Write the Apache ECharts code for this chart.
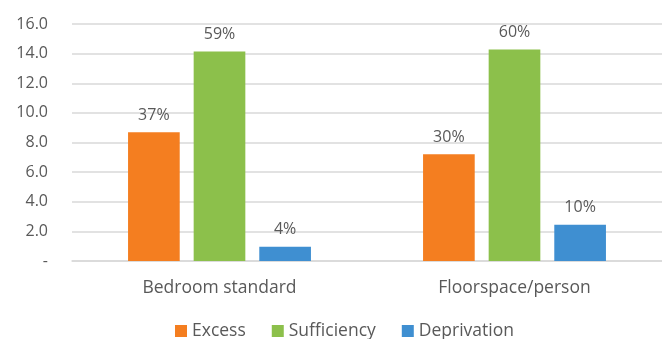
<!DOCTYPE html>
<html>
<head>
<meta charset="utf-8">
<script src="https://cdn.jsdelivr.net/npm/echarts@6/dist/echarts.min.js"></script>
<style>
  html, body {margin: 0; padding: 0; background: #fff;}
  #main {width: 662px; height: 339px;}
</style>
</head>
<body>
<div id="main"></div>
<script>
  const categories = ['Bedroom standard', 'Floorspace/person'];
  const seriesNames = ['Excess', 'Sufficiency', 'Deprivation'];
  const excess = [8.7, 7.2];
  const sufficiency = [14.15, 14.28];
  const deprivation = [0.97, 2.45];
  const excessPct = ['37%', '30%'];
  const sufficiencyPct = ['59%', '60%'];
  const deprivationPct = ['4%', '10%'];
  const colors = ['#f47e20', '#8cc04b', '#3f8fd1'];

  const textColor = '#595959';
  const font = 'Open Sans';

  const makeSeries = (name, values, pcts) => ({
    name: name,
    type: 'bar',
    data: values,
    barCategoryGap: '38%',
    barGap: '27%',
    label: {
      show: true,
      position: 'top',
      distance: 9,
      color: textColor,
      fontFamily: font,
      fontSize: 16,
      formatter: (p) => pcts[p.dataIndex]
    }
  });

  const myChart = echarts.init(document.getElementById('main'));
  myChart.setOption({
    color: colors,
    animation: false,
    grid: {left: 72, right: 0, top: 24, bottom: 78},
    legend: {
      bottom: -6,
      left: 170,
      itemWidth: 12,
      itemHeight: 12,
      itemGap: 26,
      icon: 'rect',
      textStyle: {color: textColor, fontFamily: font, fontSize: 17.5}
    },
    xAxis: {
      type: 'category',
      data: categories,
      axisLine: {lineStyle: {color: '#d9d9d9', width: 1.5}},
      axisTick: {show: false},
      axisLabel: {color: textColor, fontFamily: font, fontSize: 17.5, margin: 18}
    },
    yAxis: {
      type: 'value',
      min: 0,
      max: 16,
      interval: 2,
      axisLine: {show: false},
      axisTick: {show: false},
      splitLine: {lineStyle: {color: '#d9d9d9', width: 1.5}},
      axisLabel: {
        color: textColor,
        fontFamily: font,
        fontSize: 16,
        margin: 24,
        formatter: (v) => v === 0 ? '-' : v.toFixed(1)
      }
    },
    series: [
      makeSeries(seriesNames[0], excess, excessPct),
      makeSeries(seriesNames[1], sufficiency, sufficiencyPct),
      makeSeries(seriesNames[2], deprivation, deprivationPct)
    ]
  });
</script>
</body>
</html>
